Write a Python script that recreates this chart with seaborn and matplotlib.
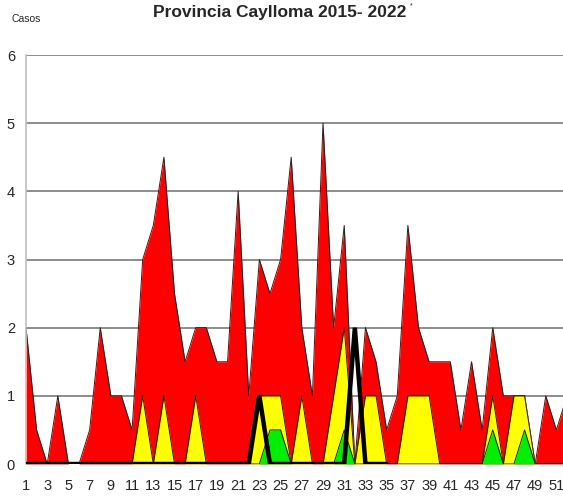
import numpy as np
import pandas as pd
import seaborn as sns
from matplotlib import pyplot as plt

sns.set_style('white')
plt.rcParams['font.family'] = ['Liberation Sans', 'DejaVu Sans']

### Semanas epidemiologicas
weeks = list(range(1, 53))

### Zonas del canal endemico
epidemia = [2, 0.5, 0, 1, 0, 0, 0.5, 2, 1, 1, 0.5, 3, 3.5, 4.5, 2.5, 1.5, 2, 2, 1.5, 1.5,
            4, 1, 3, 2.5, 3, 4.5, 2, 1, 5, 2, 3.5, 0, 2, 1.5, 0.5, 1, 3.5, 2, 1.5, 1.5,
            1.5, 0.5, 1.5, 0.5, 2, 1, 1, 1, 0, 1, 0.5, 1]
alarma = [0, 0, 0, 0, 0, 0, 0, 0, 0, 0, 0, 1, 0, 1, 0, 0, 1, 0, 0, 0,
          0, 0, 1, 1, 1, 0, 1, 0, 0, 1, 2, 0, 1, 1, 0, 0, 1, 1, 1, 0,
          0, 0, 0, 0, 1, 0, 1, 1, 0, 0, 0, 0]
seguridad = [0, 0, 0, 0, 0, 0, 0, 0, 0, 0, 0, 0, 0, 0, 0, 0, 0, 0, 0, 0,
             0, 0, 0, 0.5, 0.5, 0, 0, 0, 0, 0, 0.5, 0, 0, 0, 0, 0, 0, 0, 0, 0,
             0, 0, 0, 0, 0.5, 0, 0, 0.5, 0, 0, 0, 0]
### Casos 2022 (hasta la semana 35)
casos_2022 = [0, 0, 0, 0, 0, 0, 0, 0, 0, 0, 0, 0, 0, 0, 0, 0, 0, 0, 0, 0,
              0, 0, 1, 0, 0, 0, 0, 0, 0, 0, 0, 2, 0, 0, 0]

df = pd.DataFrame({'Semana': weeks, 'Epidemia': epidemia, 'Alarma': alarma, 'Seguridad': seguridad})
df_2022 = pd.DataFrame({'Semana': weeks[:len(casos_2022)], 'Casos': casos_2022})

fig = plt.figure(figsize=(5.63, 4.99), dpi=100)
ax = fig.add_axes([26 / 563, 35 / 499, 541 / 563, 409 / 499])

# grid lines behind everything
for yv in range(0, 7):
    ax.axhline(yv, color='#6f6f6f', lw=1.1, zorder=0)

# overlapping zones, largest first
zones = [('Epidemia', '#ff0000'), ('Alarma', '#ffff00'), ('Seguridad', '#00ee00')]
for i, (col, color) in enumerate(zones):
    ax.fill_between(df['Semana'], 0, df[col], color=color, lw=0, zorder=2 + i)
    sns.lineplot(data=df, x='Semana', y=col, ax=ax, color='#222222', lw=0.7, zorder=2.5 + i)

sns.lineplot(data=df_2022, x='Semana', y='Casos', ax=ax, color='black', lw=3.2,
             zorder=10, solid_joinstyle='miter')

ax.set_xlim(1, 52)
ax.set_ylim(0, 6)
ax.set_xlabel('')
ax.set_ylabel('')

for s in ['top', 'right', 'bottom']:
    ax.spines[s].set_visible(False)
ax.spines['left'].set_color('#c0c0c0')
ax.spines['left'].set_linewidth(1.2)

ax.set_xticks(weeks)
ax.set_xticklabels([str(w) if w % 2 == 1 else '' for w in weeks])
ax.set_yticks(range(0, 7))
ax.tick_params(axis='x', length=5, width=0.8, color='#999999', pad=6, labelsize=10.5)
ax.tick_params(axis='y', length=4, width=0.8, color='#999999', pad=4, labelsize=10.5)

fig.text(280 / 563, 1 - 17 / 499, 'Provincia Caylloma 2015- 2022', ha='center', va='baseline',
         fontsize=12.5, fontweight='bold')
fig.text(410 / 563, 1 - 7 / 499, '*', ha='left', va='baseline', fontsize=5)
fig.text(11 / 563, 1 - 22 / 499, 'Casos', ha='left', va='baseline', fontsize=7.5)

plt.savefig('out.png', dpi=100)
